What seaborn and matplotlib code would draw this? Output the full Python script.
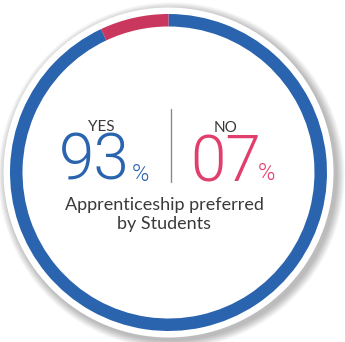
import matplotlib
matplotlib.use("Agg")
import matplotlib.pyplot as plt
from matplotlib.patches import Circle
import seaborn as sns

# ---- data ----
categories = ["YES", "NO"]
shares = [93, 7]
share_labels = ["93", "07"]
caption = "Apprenticeship preferred\nby Students"

BLUE = "#2A63AE"
RING_RED = "#C9375F"
TEXT_RED = "#E23E6B"
GRAY = "#3A3A3A"

sns.set_theme(style="white")
plt.rcParams["font.family"] = ["Lato", "DejaVu Sans"]
NUMFONT = ["Roboto", "Lato", "DejaVu Sans"]

W, H = 345, 342
fig = plt.figure(figsize=(W / 100, H / 100), dpi=100)
ax = fig.add_axes([0, 0, 1, 1])

def Y(y):
    return H - y

cx, cy = 168.5, Y(172.5)

# soft shadow
for i in range(14):
    ax.add_patch(Circle((cx + 3.0, cy - 3.0), 165.5 + i * 0.6,
                        color="#000000", alpha=0.018, lw=0, zorder=1))
ax.add_patch(Circle((cx, cy), 165, color="white", lw=0, zorder=2))

wedges, _ = ax.pie(shares, colors=[BLUE, RING_RED], startangle=90,
                   counterclock=False, center=(cx, cy), radius=158.5,
                   wedgeprops=dict(width=12.5, linewidth=0))
for w in wedges:
    w.set_zorder(3)

ax.set_xlim(0, W)
ax.set_ylim(0, H)
ax.set_aspect("equal", adjustable="box")
ax.axis("off")

# texts
ax.text(101, Y(131), categories[0], ha="center", va="baseline",
        fontsize=11, color=GRAY, zorder=5)
ax.text(130, Y(180), share_labels[0], ha="right", va="baseline",
        fontsize=46, color=BLUE, family=NUMFONT, fontweight=300, zorder=5)
ax.text(132, Y(181), "%", ha="left", va="baseline",
        fontsize=17, color=BLUE, family=NUMFONT, fontweight=300, zorder=5)

ax.plot([170.7, 170.7], [Y(109), Y(182)], color="#8A8A8A", lw=1.0, zorder=5)

ax.text(226, Y(132), categories[1], ha="center", va="baseline",
        fontsize=11, color=GRAY, zorder=5)
ax.text(190, Y(182), share_labels[1], ha="left", va="baseline",
        fontsize=46, color=TEXT_RED, family=NUMFONT, fontweight=300, zorder=5)
ax.text(258, Y(180), "%", ha="left", va="baseline",
        fontsize=17, color=TEXT_RED, family=NUMFONT, fontweight=300, zorder=5)

ax.text(164, Y(210), caption.split("\n")[0], ha="center", va="baseline",
        fontsize=13, color=GRAY, zorder=5)
ax.text(164, Y(229), caption.split("\n")[1], ha="center", va="baseline",
        fontsize=13, color=GRAY, zorder=5)

fig.savefig("out.png", dpi=100, facecolor="white")
